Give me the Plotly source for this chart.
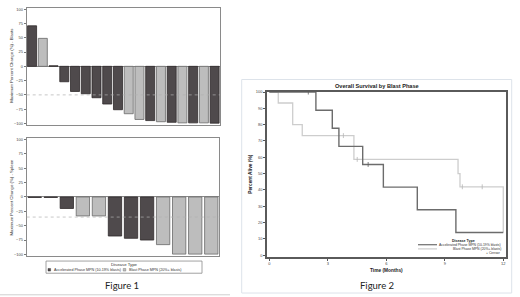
import plotly.graph_objects as go

W, H = 520, 297
def X(px): return px / W
def Y(py): return 1 - py / H

# ---------------- Data ----------------
DARK, LIGHT = "#4f4a4c", "#bdbdbd"
group_names = ["Accelerated Phase MPN (10-19% blasts)", "Blast Phase MPN (20%+ blasts)"]

blasts_change = [71, 49, 1, -27, -44, -48, -55, -66, -76, -83, -93, -95, -97, -98, -99, -99, -99, -99.5]
blasts_group  = ["AP", "BP", "AP", "AP", "AP", "AP", "AP", "AP", "AP", "BP", "BP", "AP", "BP", "AP", "BP", "AP", "BP", "AP"]

spleen_change = [-0.8, -0.8, -20, -33, -33, -68, -72, -75, -83, -99.5, -99.5, -99.5]
spleen_group  = ["AP", "AP", "AP", "BP", "BP", "AP", "AP", "AP", "BP", "BP", "BP", "BP"]

blasts_ticks = [100, 75, 50, 25, 0, -25, -50, -75, -100]
spleen_ticks = [100, 75, 50, 25, 0, -25, -50, -75, -100]
blasts_ref = -50
spleen_ref = -35

ap_time = [0, 2.39, 3.23, 3.57, 4.79, 5.85, 7.59, 9.57, 12.0]
ap_surv = [100, 88.9, 77.8, 66.7, 55.6, 41.7, 27.8, 13.9, 13.9]
ap_cens_t = [2.0, 5.07]
ap_cens_s = [100, 55.6]

bp_time = [0, 0.46, 1.2, 1.69, 4.34, 9.68, 9.78, 12.0]
bp_surv = [100, 93.3, 80.0, 73.3, 58.7, 50.0, 41.9, 13.9]
bp_cens_t = [3.8, 4.51, 9.9, 10.92]
bp_cens_s = [73.3, 58.7, 41.9, 41.9]

km_xticks = [0, 3, 6, 9, 12]
km_yticks = list(range(0, 101, 10))

# ---------------- Figure ----------------
fig = go.Figure()
cmap = {"AP": DARK, "BP": LIGHT}
lmap = {"AP": "#2e2a2b", "BP": "#6a6a6a"}

fig.add_trace(go.Bar(
    x=list(range(len(blasts_change))), y=blasts_change, width=0.84,
    marker=dict(color=[cmap[g] for g in blasts_group],
                line=dict(color=[lmap[g] for g in blasts_group], width=0.8)),
    xaxis="x", yaxis="y", showlegend=False))

fig.add_trace(go.Bar(
    x=list(range(len(spleen_change))), y=spleen_change, width=0.83,
    marker=dict(color=[cmap[g] for g in spleen_group],
                line=dict(color=[lmap[g] for g in spleen_group], width=0.8)),
    xaxis="x2", yaxis="y2", showlegend=False))

AP_LINE, BP_LINE = "#6c6c6c", "#cdcdcd"
fig.add_trace(go.Scatter(x=bp_time, y=bp_surv, mode="lines", line=dict(shape="hv", color=BP_LINE, width=1.3),
                         xaxis="x3", yaxis="y3", showlegend=False))
fig.add_trace(go.Scatter(x=ap_time, y=ap_surv, mode="lines", line=dict(shape="hv", color=AP_LINE, width=1.4),
                         xaxis="x3", yaxis="y3", showlegend=False))
fig.add_trace(go.Scatter(x=bp_cens_t, y=bp_cens_s, mode="markers",
                         marker=dict(symbol="line-ns", size=3.5, line=dict(color="#b5b5b5", width=0.8)),
                         xaxis="x3", yaxis="y3", showlegend=False))
fig.add_trace(go.Scatter(x=ap_cens_t, y=ap_cens_s, mode="markers",
                         marker=dict(symbol="line-ns", size=3.5, line=dict(color="#606060", width=0.8)),
                         xaxis="x3", yaxis="y3", showlegend=False))

F = "Liberation Sans"
tickf = dict(family=F, size=4, color="#444")
frame1 = dict(showline=True, mirror=True, linecolor="#8a8a8a", linewidth=1)

fig.update_layout(
    width=W, height=H, margin=dict(l=0, r=0, t=0, b=0),
    paper_bgcolor="white", plot_bgcolor="white",
    barmode="overlay",
    xaxis=dict(domain=[X(26.7), X(220)], anchor="y", range=[-0.5, 17.5], showticklabels=False,
               ticks="", showgrid=False, zeroline=False, **frame1),
    yaxis=dict(domain=[Y(124), Y(6)], anchor="x", range=[-102.3, 102.3], tickvals=blasts_ticks,
               ticks="outside", ticklen=2, tickcolor="#777", tickfont=tickf, showgrid=False,
               zeroline=True, zerolinecolor="#8a8a8a", zerolinewidth=0.8, **frame1),
    xaxis2=dict(domain=[X(26.7), X(219.3)], anchor="y2", range=[-0.5, 11.5], showticklabels=False,
                ticks="", showgrid=False, zeroline=False, **frame1),
    yaxis2=dict(domain=[Y(256.7), Y(137)], anchor="x2", range=[-103, 103.4], tickvals=spleen_ticks,
                ticks="outside", ticklen=2, tickcolor="#777", tickfont=tickf, showgrid=False,
                zeroline=True, zerolinecolor="#8a8a8a", zerolinewidth=0.8, **frame1),
    xaxis3=dict(domain=[X(267), X(506)], anchor="y3", range=[-0.118, 12.14], tickvals=km_xticks,
                ticks="outside", ticklen=2, tickcolor="#555", tickfont=tickf, showgrid=False,
                zeroline=False, showline=True, mirror=True, linecolor="#5a5a5a", linewidth=1.5),
    yaxis3=dict(domain=[Y(257.5), Y(90.5)], anchor="x3", range=[-1.1, 100.3], tickvals=km_yticks,
                ticks="outside", ticklen=2, tickcolor="#555", tickfont=tickf, showgrid=False,
                zeroline=False, showline=True, mirror=True, linecolor="#5a5a5a", linewidth=1.5),
)

shapes = []
shapes.append(dict(type="line", xref="x domain", yref="y", x0=0, x1=1, y0=blasts_ref, y1=blasts_ref,
                   line=dict(color="#b0b0b0", width=0.7, dash="dot"), layer="above"))
shapes.append(dict(type="line", xref="x2 domain", yref="y2", x0=0, x1=1, y0=spleen_ref, y1=spleen_ref,
                   line=dict(color="#b0b0b0", width=0.7, dash="dot"), layer="above"))
shapes.append(dict(type="rect", xref="paper", yref="paper", x0=X(241.7), x1=X(511.7), y0=Y(294), y1=Y(78.3),
                   line=dict(color="#dde3ea", width=1), layer="below"))
shapes.append(dict(type="line", xref="paper", yref="paper", x0=X(0), x1=X(230), y0=Y(295.8), y1=Y(295.8),
                   line=dict(color="#cfcfcf", width=1)))
shapes.append(dict(type="rect", xref="paper", yref="paper", x0=X(46), x1=X(202), y0=Y(274), y1=Y(261.7),
                   line=dict(color="#8a8a8a", width=0.8)))
shapes.append(dict(type="rect", xref="paper", yref="paper", x0=X(48), x1=X(50.6), y0=Y(271.8), y1=Y(269.2),
                   fillcolor=DARK, line=dict(color="#2e2a2b", width=0.4)))
shapes.append(dict(type="rect", xref="paper", yref="paper", x0=X(123.2), x1=X(125.8), y0=Y(271.8), y1=Y(269.2),
                   fillcolor=LIGHT, line=dict(color="#6a6a6a", width=0.4)))
shapes.append(dict(type="line", xref="paper", yref="paper", x0=X(418), x1=X(437), y0=Y(245.2), y1=Y(245.2),
                   line=dict(color=AP_LINE, width=1.2)))
shapes.append(dict(type="line", xref="paper", yref="paper", x0=X(418), x1=X(437), y0=Y(249.4), y1=Y(249.4),
                   line=dict(color=BP_LINE, width=1.2)))
fig.update_layout(shapes=shapes)

ann = []
def A(text, px, py, size, xanchor="center", angle=0, bold=False, family=F, color="#333"):
    t = f"<b>{text}</b>" if bold else text
    ann.append(dict(text=t, x=X(px), y=Y(py), xref="paper", yref="paper", showarrow=False,
                    xanchor=xanchor, yanchor="middle", textangle=angle,
                    font=dict(family=family, size=size, color=color)))

A("Maximum Percent Change (%) - Blasts", 11.5, 65, 4.3, angle=-90)
A("Maximum Percent Change (%) - Spleen", 11.5, 197, 4.3, angle=-90)
A("Disease Type", 124, 265.3, 4.3)
A(group_names[0], 51.6, 270.6, 3.7, xanchor="left")
A(group_names[1], 126.8, 270.6, 3.7, xanchor="left")
A("Figure 1", 122, 286.5, 9.5, family="Lato", color="#222")

A("Overall Survival by Blast Phase", 377, 85, 5.6, bold=True, color="#222")
A("Percent Alive (%)", 250.5, 174, 4.8, angle=-90, bold=True, color="#222")
A("Time (Months)", 386.5, 270.8, 4.8, bold=True, color="#222")
A("Disease Type", 463, 241, 3.6, bold=True, color="#222")
A(group_names[0], 503, 245.2, 3.4, xanchor="right")
A(group_names[1], 503, 249.4, 3.4, xanchor="right")
A("+ Censor", 503, 253.6, 3.4, xanchor="right")
A("Figure 2", 377, 286.5, 9.5, family="Lato", color="#222")
fig.update_layout(annotations=ann)

fig.write_html("out.html", config={"displayModeBar": False},
               post_script="document.body.style.margin='0';document.body.style.overflow='hidden';")
